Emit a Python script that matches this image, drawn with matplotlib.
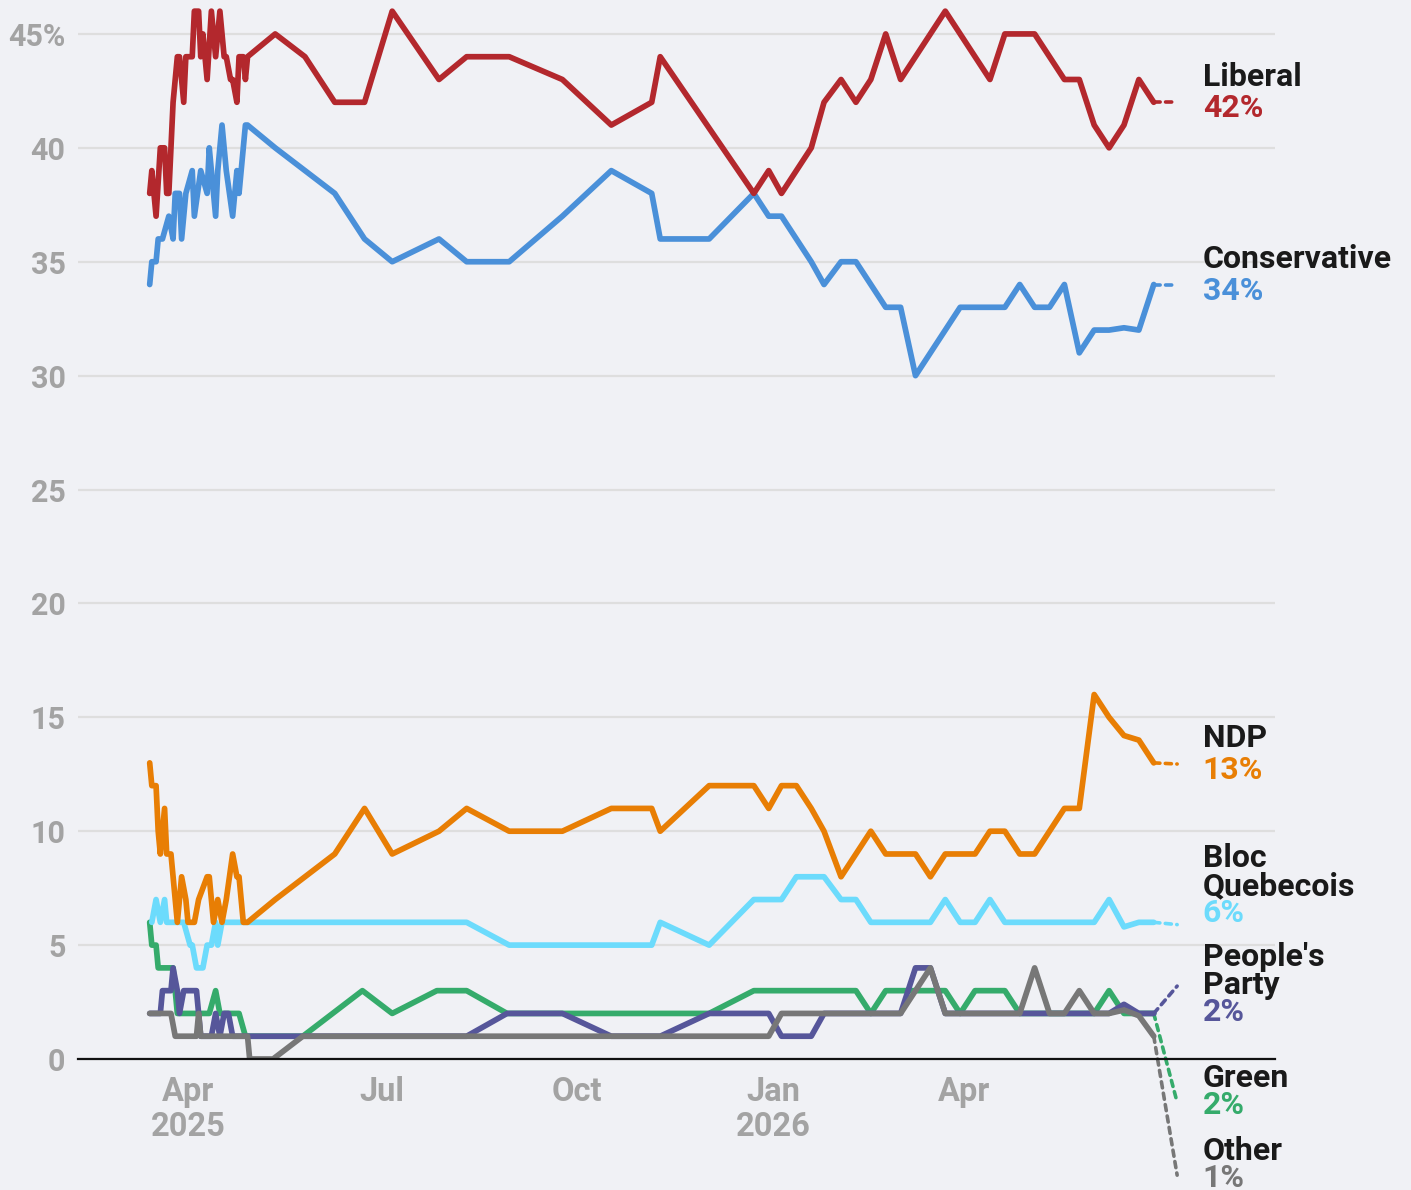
import matplotlib.pyplot as plt
import pandas as pd

plt.rcParams['font.family'] = ['Roboto', 'DejaVu Sans']

# Poll averages
liberal_dates = ['2025-03-14', '2025-03-15', '2025-03-17', '2025-03-19', '2025-03-21', '2025-03-22', '2025-03-23',
                 '2025-03-25', '2025-03-27', '2025-03-28', '2025-03-30', '2025-03-31', '2025-04-03', '2025-04-04',
                 '2025-04-06', '2025-04-07', '2025-04-08', '2025-04-10', '2025-04-12', '2025-04-14', '2025-04-16',
                 '2025-04-18', '2025-04-19', '2025-04-21', '2025-04-22', '2025-04-24', '2025-04-25', '2025-04-27',
                 '2025-04-28', '2025-04-29', '2025-05-12', '2025-05-26', '2025-06-09', '2025-06-23', '2025-07-06',
                 '2025-07-28', '2025-08-10', '2025-08-30', '2025-09-24', '2025-10-17', '2025-11-05', '2025-11-09',
                 '2025-12-23', '2025-12-30', '2026-01-05', '2026-01-19', '2026-01-25', '2026-02-02', '2026-02-09',
                 '2026-02-16', '2026-02-23', '2026-03-02', '2026-03-23', '2026-04-13', '2026-04-20', '2026-05-04',
                 '2026-05-18', '2026-05-25', '2026-06-01', '2026-06-08', '2026-06-15', '2026-06-22', '2026-06-29']
liberal = [38, 39, 37, 40, 40, 38, 38, 42, 44, 44, 42, 44, 44, 46, 46, 44, 45, 43, 46, 44,
           46, 44, 44, 43, 43, 42, 44, 44, 43, 44, 45, 44, 42, 42, 46, 43, 44, 44, 43, 41,
           42, 44, 38, 39, 38, 40, 42, 43, 42, 43, 45, 43, 46, 43, 45, 45, 43, 43, 41, 40,
           41, 43, 42]

conservative_dates = ['2025-03-14', '2025-03-15', '2025-03-17', '2025-03-18', '2025-03-20', '2025-03-23', '2025-03-25',
                      '2025-03-26', '2025-03-28', '2025-03-29', '2025-03-31', '2025-04-03', '2025-04-04', '2025-04-07',
                      '2025-04-10', '2025-04-11', '2025-04-12', '2025-04-14', '2025-04-15', '2025-04-17', '2025-04-19',
                      '2025-04-22', '2025-04-24', '2025-04-25', '2025-04-28', '2025-04-29', '2025-05-12', '2025-05-26',
                      '2025-06-09', '2025-06-23', '2025-07-06', '2025-07-28', '2025-08-10', '2025-08-30', '2025-09-24',
                      '2025-10-17', '2025-11-05', '2025-11-09', '2025-12-02', '2025-12-23', '2025-12-30', '2026-01-05',
                      '2026-01-19', '2026-01-25', '2026-02-02', '2026-02-09', '2026-02-23', '2026-03-02', '2026-03-09',
                      '2026-03-30', '2026-04-20', '2026-04-27', '2026-05-04', '2026-05-11', '2026-05-18', '2026-05-25',
                      '2026-06-01', '2026-06-08', '2026-06-15', '2026-06-22', '2026-06-29']
conservative = [34, 35, 35, 36, 36, 37, 36, 38, 38, 36, 38, 39, 37, 39, 38, 40, 39, 37, 39, 41,
                39, 37, 39, 38, 41, 41, 40, 39, 38, 36, 35, 36, 35, 35, 37, 39, 38, 36, 36, 38,
                37, 37, 35, 34, 35, 35, 33, 33, 30, 33, 33, 34, 33, 33, 34, 31, 32, 32, 32.1, 32,
                34]

ndp_dates = ['2025-03-14', '2025-03-15', '2025-03-17', '2025-03-18', '2025-03-19', '2025-03-21', '2025-03-22',
             '2025-03-24', '2025-03-27', '2025-03-29', '2025-03-31', '2025-04-01', '2025-04-04', '2025-04-06',
             '2025-04-10', '2025-04-11', '2025-04-13', '2025-04-15', '2025-04-17', '2025-04-19', '2025-04-22',
             '2025-04-24', '2025-04-25', '2025-04-27', '2025-04-29', '2025-05-12', '2025-05-26', '2025-06-09',
             '2025-06-23', '2025-07-06', '2025-07-28', '2025-08-10', '2025-08-30', '2025-09-24', '2025-10-17',
             '2025-11-05', '2025-11-09', '2025-12-02', '2025-12-23', '2025-12-30', '2026-01-05', '2026-01-12',
             '2026-01-19', '2026-01-25', '2026-02-02', '2026-02-16', '2026-02-23', '2026-03-09', '2026-03-16',
             '2026-03-23', '2026-04-06', '2026-04-13', '2026-04-20', '2026-04-27', '2026-05-04', '2026-05-18',
             '2026-05-25', '2026-06-01', '2026-06-08', '2026-06-15', '2026-06-22', '2026-06-29']
ndp = [13, 12, 12, 10, 9, 11, 9, 9, 6, 8, 7, 6, 6, 7, 8, 8, 6, 7, 6, 7,
       9, 8, 8, 6, 6, 7, 8, 9, 11, 9, 10, 11, 10, 10, 11, 11, 10, 12, 12, 11,
       12, 12, 11, 10, 8, 10, 9, 9, 8, 9, 9, 10, 10, 9, 9, 11, 11, 16, 15, 14.2,
       14, 13]

bloc_dates = ['2025-03-15', '2025-03-17', '2025-03-19', '2025-03-21', '2025-03-22', '2025-03-30', '2025-04-02',
              '2025-04-03', '2025-04-05', '2025-04-08', '2025-04-10', '2025-04-12', '2025-04-14', '2025-04-15',
              '2025-04-17', '2025-08-10', '2025-08-30', '2025-11-05', '2025-11-09', '2025-12-02', '2025-12-23',
              '2026-01-05', '2026-01-12', '2026-01-25', '2026-02-02', '2026-02-09', '2026-02-16', '2026-03-16',
              '2026-03-23', '2026-03-30', '2026-04-06', '2026-04-13', '2026-04-20', '2026-06-01', '2026-06-08',
              '2026-06-15', '2026-06-22', '2026-06-29']
bloc = [6, 7, 6, 7, 6, 6, 5, 5, 4, 4, 5, 5, 6, 5, 6, 6, 5, 5, 6, 5,
        7, 7, 8, 8, 7, 7, 6, 6, 7, 6, 6, 7, 6, 6, 7, 5.8, 6, 6]

green_dates = ['2025-03-14', '2025-03-15', '2025-03-17', '2025-03-18', '2025-03-25', '2025-03-27', '2025-04-11',
               '2025-04-14', '2025-04-16', '2025-04-25', '2025-04-28', '2025-05-25', '2025-06-22', '2025-07-06',
               '2025-07-27', '2025-08-10', '2025-08-29', '2025-12-02', '2025-12-23', '2026-02-09', '2026-02-16',
               '2026-02-23', '2026-03-23', '2026-03-30', '2026-04-06', '2026-04-20', '2026-04-27', '2026-06-01',
               '2026-06-08', '2026-06-15', '2026-06-22', '2026-06-29']
green = [6, 5, 5, 4, 4, 2, 2, 3, 2, 2, 1, 1, 3, 2, 3, 3, 2, 2, 3, 3,
         2, 3, 3, 2, 3, 3, 2, 2, 3, 2, 2, 2]

ppc_dates = ['2025-03-14', '2025-03-19', '2025-03-20', '2025-03-24', '2025-03-25', '2025-03-27', '2025-03-28',
             '2025-03-30', '2025-04-05', '2025-04-07', '2025-04-12', '2025-04-14', '2025-04-16', '2025-04-18',
             '2025-04-20', '2025-04-22', '2025-08-10', '2025-08-29', '2025-09-24', '2025-10-17', '2025-11-09',
             '2025-12-02', '2025-12-30', '2026-01-05', '2026-01-19', '2026-01-25', '2026-03-02', '2026-03-09',
             '2026-03-16', '2026-03-23', '2026-06-08', '2026-06-15', '2026-06-22', '2026-06-29']
ppc = [2, 2, 3, 3, 4, 3, 2, 3, 3, 1, 1, 2, 1, 2, 2, 1, 1, 2, 2, 1,
       1, 2, 2, 1, 1, 2, 2, 4, 4, 2, 2, 2.4, 2, 2]

other_dates = ['2025-03-14', '2025-03-24', '2025-03-26', '2025-04-05', '2025-04-06', '2025-04-07', '2025-04-29',
               '2025-04-30', '2025-05-11', '2025-05-25', '2025-12-30', '2026-01-05', '2026-03-02', '2026-03-16',
               '2026-03-23', '2026-04-27', '2026-05-04', '2026-05-11', '2026-05-18', '2026-05-25', '2026-06-01',
               '2026-06-08', '2026-06-15', '2026-06-22', '2026-06-29']
other = [2, 2, 1, 1, 2, 1, 1, 0, 0, 1, 1, 2, 2, 4, 2, 2, 4, 2, 2, 3,
         2, 2, 2.15, 1.9, 1]

party_names = ['Green', "People's\nParty", 'Other', 'Bloc\nQuebecois', 'NDP', 'Conservative', 'Liberal']
party_latest = ['2%', '2%', '1%', '6%', '13%', '34%', '42%']
party_colors = ['#35ab6b', '#56569a', '#777777', '#6cdbfc', '#e87e04', '#4a90d9', '#b3282d']
series = [(green_dates, green), (ppc_dates, ppc), (other_dates, other), (bloc_dates, bloc),
          (ndp_dates, ndp), (conservative_dates, conservative), (liberal_dates, liberal)]

# where the dashed leader ends / where the name and percentage sit (layout)
leader_end = [-1.9, 3.2, -5.1, 5.9, 12.95, 34.0, 42.0]
name_y = [[-0.83], [4.48, 3.25], [-4.04], [8.82, 7.59], [14.09], [35.12], [43.1]]
pct_y = [-2.02, 2.06, -5.22, 6.41, 12.69, 33.71, 41.75]

bg = '#f0f1f5'
fig = plt.figure(figsize=(14.11, 11.9), dpi=100)
fig.patch.set_facecolor(bg)
ax = fig.add_axes([78 / 1411, 131 / 1190, 1197 / 1411, 1059 / 1190])
ax.set_facecolor(bg)

base = pd.Timestamp('2025-04-01')
ax.set_xlim(base + pd.Timedelta(days=-51.7), base + pd.Timedelta(days=511))
ax.set_ylim(0, 46.49)

leader_x = pd.Timestamp('2026-07-10')
text_x = pd.Timestamp('2026-07-22')

for (d, v), name, pct, col, le, ny, py in zip(series, party_names, party_latest, party_colors,
                                               leader_end, name_y, pct_y):
    dates = pd.to_datetime(d)
    ax.plot(dates, v, color=col, lw=4.1, solid_joinstyle='round', solid_capstyle='round', zorder=3)
    ax.plot([dates[-1], leader_x], [v[-1], le], color=col, lw=2.6, ls=(0, (1.7, 1.5)),
            dash_capstyle='round', clip_on=False, zorder=3)
    for line, y in zip(name.split('\n'), ny):
        ax.text(text_x, y, line, color='#1a1a1a', fontsize=23, fontweight='bold', va='center',
                ha='left', clip_on=False)
    ax.text(text_x, py, pct, color=col, fontsize=23, fontweight='bold', va='center', ha='left',
            clip_on=False)

# axes styling
for s in ['top', 'right', 'left']:
    ax.spines[s].set_visible(False)
ax.spines['bottom'].set_color('#111111')
ax.spines['bottom'].set_linewidth(1.6)
ax.spines['bottom'].set_zorder(4)

yticks = list(range(0, 50, 5))
ax.set_yticks(yticks)
ax.set_yticklabels([str(t) if t < 45 else '45%' for t in yticks])
ax.grid(axis='y', color='#dedede', lw=1.6)
ax.set_axisbelow(True)

xticks = pd.to_datetime(['2025-04-01', '2025-07-01', '2025-10-01', '2026-01-01', '2026-04-01'])
ax.set_xticks(xticks)
ax.set_xticklabels(['Apr\n2025', 'Jul', 'Oct', 'Jan\n2026', 'Apr'], linespacing=1.15)

ax.tick_params(axis='both', length=0, labelcolor='#a3a3a3')
ax.tick_params(axis='y', pad=9, labelsize=22)
ax.tick_params(axis='x', pad=12, labelsize=23.5)
for lbl in ax.get_xticklabels() + ax.get_yticklabels():
    lbl.set_fontweight('bold')

plt.savefig('out.png', dpi=100, facecolor=bg)
